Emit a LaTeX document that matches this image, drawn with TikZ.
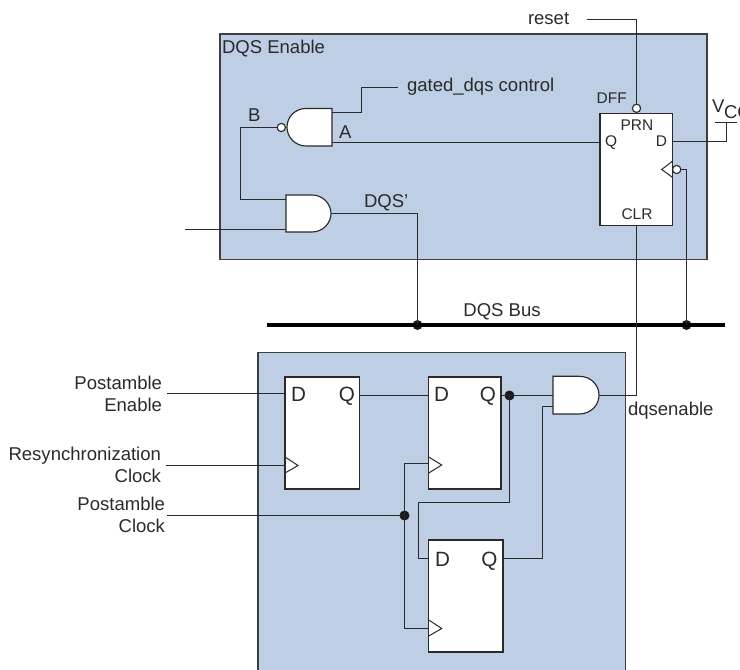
\documentclass[tikz,border=0pt]{standalone}
\usepackage{fontspec}
\setmainfont{Liberation Sans}
\definecolor{panelblue}{HTML}{BDCEE5}
\definecolor{ink}{HTML}{2A2A2A}
\newcommand{\fsz}[1]{\fontsize{#1}{#1}\selectfont}
\tikzset{
  panel/.style={fill=panelblue,draw=ink!90,line width=0.95pt},
  wire/.style={draw=ink,line width=0.85pt},
  buswire/.style={draw=black,line width=3pt},
  ffbox/.style={draw=ink,fill=white,line width=0.95pt,rectangle,inner sep=0pt,outer sep=0pt},
  gatebody/.style={draw=ink,fill=white,line width=0.85pt},
  clk/.style={draw=ink,line width=0.75pt,line join=miter},
  bubble/.style={circle,draw=ink,fill=white,line width=0.85pt,minimum size=6.2pt,inner sep=0pt,outer sep=0pt},
  junction/.style={circle,fill=black!90,minimum size=7.5pt,inner sep=0pt,outer sep=0pt},
  lbl/.style={text=ink,inner sep=0pt,outer sep=0pt,font=\fsz{13.9pt}},
  sml/.style={text=ink,inner sep=0pt,outer sep=0pt,font=\fsz{11.6pt}},
  pinbig/.style={text=ink,inner sep=0pt,outer sep=0pt,font=\fsz{15.5pt}},
  side/.style={text=ink,inner sep=0pt,outer sep=0pt,align=right,font=\fontsize{13.9pt}{16.5pt}\selectfont},
}
\begin{document}
\begin{tikzpicture}[x=0.75pt,y=-0.75pt]
\useasboundingbox (0,0) rectangle (740,670);
\clip (0,0) rectangle (740,670);

% panels
\path[panel] (220,34) rectangle (707,259.5);
\path[panel] (258,352.5) rectangle (625.7,700);

% flip-flops
\node[ffbox,minimum width=54.5pt,minimum height=84.3pt] (dff) at (636.4,169.5) {};
\node[ffbox,minimum width=55.7pt,minimum height=84pt] (ffa) at (322.2,433) {};
\node[ffbox,minimum width=54.2pt,minimum height=84pt] (ffb) at (464.9,433) {};
\node[ffbox,minimum width=55.7pt,minimum height=84pt] (ffc) at (465.9,596) {};

% gates
\draw[gatebody] (332,108.5) coordinate (nand) -- (332,146) -- (306,146)
  .. controls (295,146) and (287,137) .. (287,127.2)
  .. controls (287,117) and (295,108.5) .. (306,108.5) -- cycle;
\draw[gatebody] (286,195) coordinate (anda) -- (286,232) -- (312,232)
  .. controls (323,232) and (331,223) .. (331,213.5)
  .. controls (331,204) and (323,195) .. (312,195) -- cycle;
\draw[gatebody] (553,376.3) coordinate (andb) -- (553,414) -- (579,414)
  .. controls (591,414) and (599,405) .. (599,395.2)
  .. controls (599,385) and (591,376.3) .. (579,376.3) -- cycle;

% bubbles and junctions
\node[bubble] (nandin) at (281.3,127.5) {};
\node[bubble] (prn) at (636.5,108.3) {};
\node[bubble] (clkin) at (676.7,169.5) {};
\node[junction] (jdqs) at (417.5,325) {};
\node[junction] (jclk) at (686.5,325) {};
\node[junction] (jq) at (509.5,395.5) {};
\node[junction] (jpc) at (404.5,515.5) {};

% free ends and port points
\coordinate (gatedEnd) at (398,87.5);
\coordinate (resetEnd) at (586.7,19.5);
\coordinate (vccBarL) at (715,122.5);
\coordinate (vccBarR) at (737,122.5);
\coordinate (vccTap) at (726.5,122.5);
\coordinate (busL) at (267,325);
\coordinate (busR) at (725,325);
\coordinate (dqsIn) at (185,229.5);
\coordinate (peEnd) at (167,393.5);
\coordinate (rcEnd) at (165.7,465.5);
\coordinate (pcEnd) at (167,515.5);

% bus
\path[buswire] (busL) -- (busR);

% wires, top panel
\path[wire] (nandin.west) -- (240.5,127.5) -- (240.5,199.5) -- (286,199.5);
\path[wire] (dqsIn) -- (286,229.5);
\path[wire] (331,213.5) -| (jdqs.center);
\path[wire] (332,112.5) -- (361.5,112.5) -- (361.5,87.5) -- (gatedEnd);
\path[wire] (332,142.5) -- (dff.west |- 0,142.5);
\path[wire] (resetEnd) -| (prn.north);
\path[wire] (dff.east |- 0,141.5) -| (vccTap);
\path[wire] (vccBarL) -- (vccBarR);
\path[wire] (clkin.east) -| (jclk.center);
\path[wire] (dff.south -| prn) |- (599,395.5);

% wires, bottom panel
\path[wire] (peEnd) -- (ffa.west |- peEnd);
\path[wire] (rcEnd) -- (ffa.west |- rcEnd);
\path[wire] (pcEnd) -- (jpc.center);
\path[wire] (ffa.east |- 0,395.5) -- (ffb.west |- 0,395.5);
\path[wire] (ffb.east |- 0,395.5) -- (553,395.5);
\path[wire] (ffb.west |- 0,463.5) -| (jpc.center);
\path[wire] (jpc.center) |- (ffc.west |- 0,628.5);
\path[wire] (jq.center) -- (509.5,502.5) -- (418.5,502.5) -- (418.5,558.5) -- (ffc.west |- 0,558.5);
\path[wire] (ffc.east |- 0,558.5) -- (542.5,558.5) -- (542.5,406.5) -- (553,406.5);

% clock triangles
\draw[clk] (672.7,161) -- (661.7,169.5) -- (672.7,177.5);
\draw[clk] (ffa.west |- 0,457) -- (298,465.5) -- (ffa.west |- 0,473);
\draw[clk] (ffb.west |- 0,457) -- (441.7,465) -- (ffb.west |- 0,473);
\draw[clk] (ffc.west |- 0,620) -- (441.7,628.5) -- (ffc.west |- 0,636);

% labels
\node[lbl,anchor=base west] (tEnable) at (222,53.3) {DQS Enable};
\node[lbl,anchor=base west] (tGated) at (407,91.7) {gated\_dqs control};
\node[lbl,anchor=base west] (tB) at (248,122) {B};
\node[lbl,anchor=base west] (tA) at (339,139) {A};
\node[lbl,anchor=base west] (tDqsp) at (364,208) {DQS'};
\node[lbl,anchor=base west] (tReset) at (528,25) {reset};
\node[lbl,anchor=base] (tBus) at (502,317) {DQS Bus};
\node[lbl,anchor=base west] (tSen) at (628,416) {dqsenable};
\node[sml,anchor=base west] (tDff) at (596.7,104) {DFF};
\node[sml,anchor=base] (tPrn) at (637,131) {PRN};
\node[sml,anchor=base] (tClr) at (637,220) {CLR};
\node[sml,anchor=base west] (tQ) at (605,147) {Q};
\node[sml,anchor=base east] (tD) at (667,147) {D};
\node[lbl,anchor=base west] (tV) at (712,113) {V};
\node[lbl,anchor=base west] (tCC) at (724,119) {CC};

\node[side,anchor=east] (tPE) at (162,394) {Postamble\\Enable};
\node[side,anchor=east] (tRC) at (161,465) {Resynchronization\\Clock};
\node[side,anchor=east] (tPC) at (165,515) {Postamble\\Clock};

\node[pinbig,anchor=base west] (d1) at (291,401.7) {D};
\node[pinbig,anchor=base east] (q1) at (355,401.7) {Q};
\node[pinbig,anchor=base west] (d2) at (434,401.7) {D};
\node[pinbig,anchor=base east] (q2) at (496,401.7) {Q};
\node[pinbig,anchor=base west] (d3) at (435,566) {D};
\node[pinbig,anchor=base east] (q3) at (497.5,566) {Q};
\end{tikzpicture}
\end{document}
